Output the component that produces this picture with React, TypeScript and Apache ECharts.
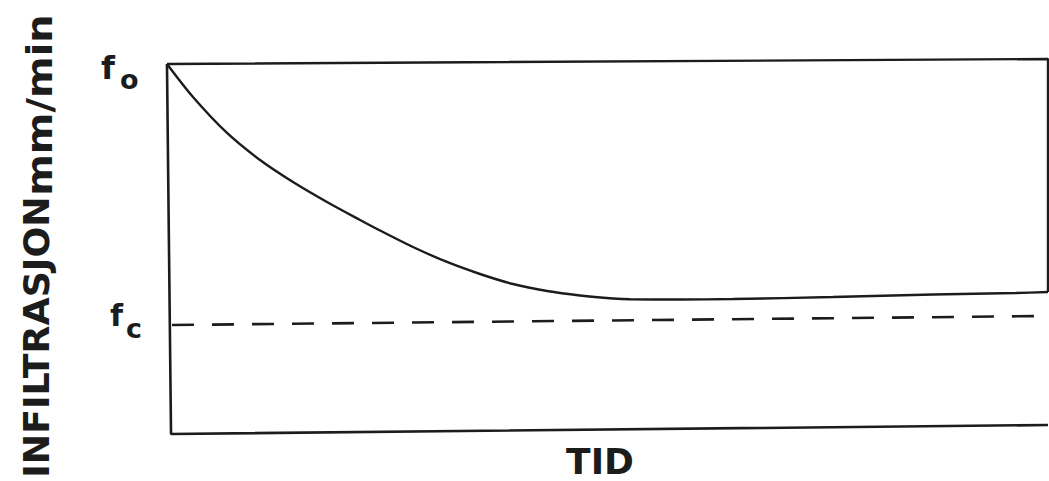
import React, { useEffect, useRef } from "react";
import * as echarts from "echarts";

// Infiltration curve (TID on x, 0..100; infiltration on y, 0..100)
const curveX = [0.11, 3.06, 6.92, 10.66, 14.4, 18.25, 22.0, 24.26, 28.0, 31.86, 35.6, 39.34, 43.2, 46.94, 50.68, 52.6, 58.28, 64.29, 75.6, 86.96, 96.37, 100];
const curveY = [98.67, 89.87, 80.27, 73.07, 67.2, 61.87, 57.07, 54.27, 49.87, 45.87, 42.67, 40.0, 38.13, 36.93, 36.13, 35.92, 35.87, 36.0, 36.53, 37.2, 37.6, 37.87];

// fc dashed reference line
const fcX = [0.68, 100];
const fcY = [29.07, 31.47];

// Frame lines
const frameTopRightX = [0.11, 100, 100];
const frameTopRightY = [98.67, 100, 37.87];
const frameLeftBottomX = [0.11, 0.57, 100];
const frameLeftBottomY = [98.67, 0, 2.4];

// Texts
const yTitleMain = "INFILTRASJON";
const yTitleUnit = "mm/min";
const xTitle = "TID";
const f0Main = "f";
const f0Sub = "o";
const fcMain = "f";
const fcSub = "c";

const zip = (xs: number[], ys: number[]) => xs.map((x, i) => [x, ys[i]]);

const INK = "#1c1c1c";
const FONT = "DejaVu Sans";

export default function App() {
  const ref = useRef<HTMLDivElement>(null);
  useEffect(() => {
    document.body.style.margin = "0";
    const chart = echarts.init(ref.current!, null, { renderer: "svg" });
    const lineBase = {
      type: "line" as const,
      symbol: "none",
      showSymbol: false,
      clip: false,
      silent: true,
    };
    chart.setOption({
      animation: false,
      backgroundColor: "#ffffff",
      grid: { left: 166, right: 1, top: 59, bottom: 47 },
      xAxis: { type: "value", min: 0, max: 100, show: false },
      yAxis: { type: "value", min: 0, max: 100, show: false },
      series: [
        { ...lineBase, name: "frameA", data: zip(frameTopRightX, frameTopRightY), lineStyle: { color: INK, width: 2.4 } },
        { ...lineBase, name: "frameB", data: zip(frameLeftBottomX, frameLeftBottomY), lineStyle: { color: INK, width: 2.6 } },
        { ...lineBase, name: "curve", smooth: 0.3, data: zip(curveX, curveY), lineStyle: { color: INK, width: 2.4 } },
        { ...lineBase, name: "fc", data: zip(fcX, fcY), lineStyle: { color: INK, width: 2.6, type: [22, 18] } },
      ],
      graphic: [
        {
          type: "text",
          x: 37,
          y: 337,
          rotation: Math.PI / 2,
          scaleX: 1.01,
          style: { text: yTitleMain, font: `bold 36px '${FONT}'`, fill: INK, align: "center", verticalAlign: "middle" },
        },
        {
          type: "text",
          x: 40,
          y: 105,
          rotation: Math.PI / 2,
          scaleX: 1.11,
          style: { text: yTitleUnit, font: `bold 36px '${FONT}'`, fill: INK, align: "center", verticalAlign: "middle" },
        },
        {
          type: "text",
          x: 600,
          y: 461,
          style: { text: xTitle, font: `bold 36px '${FONT}'`, fill: INK, align: "center", verticalAlign: "middle" },
        },
        { type: "text", x: 101, y: 52, style: { text: f0Main, font: `bold 32px '${FONT}'`, fill: INK, align: "left", verticalAlign: "top" } },
        { type: "text", x: 120, y: 66, style: { text: f0Sub, font: `bold 27px '${FONT}'`, fill: INK, align: "left", verticalAlign: "top" } },
        { type: "text", x: 110, y: 300, style: { text: fcMain, font: `bold 30px '${FONT}'`, fill: INK, align: "left", verticalAlign: "top" } },
        { type: "text", x: 126, y: 315, style: { text: fcSub, font: `bold 27px '${FONT}'`, fill: INK, align: "left", verticalAlign: "top" } },
      ],
    });
    return () => chart.dispose();
  }, []);
  return <div ref={ref} style={{ width: 1049, height: 481 }} />;
}
